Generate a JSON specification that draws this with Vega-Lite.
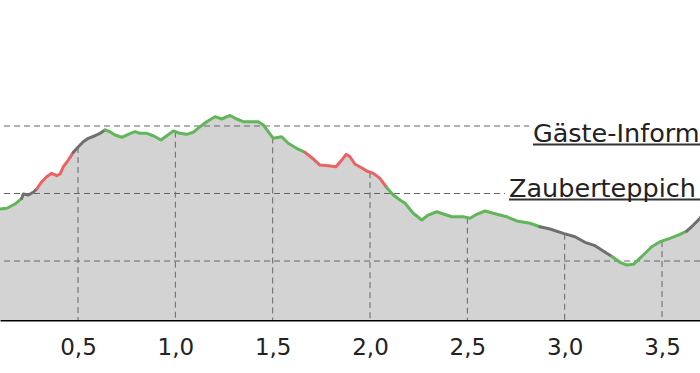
{
  "$schema": "https://vega.github.io/schema/vega-lite/v6.json",
  "width": 700,
  "height": 320,
  "autosize": "none",
  "padding": {"left": 0, "right": 0, "top": 0, "bottom": 53},
  "background": "white",
  "config": {"view": {"stroke": null}},
  "datasets": {
    "profile": [
      {"km":0.084,"ele":1467.56,"seg":1,"kind":"moderate"},
      {"km":0.099,"ele":1467.70,"seg":1,"kind":"moderate"},
      {"km":0.135,"ele":1467.81,"seg":1,"kind":"moderate"},
      {"km":0.176,"ele":1468.44,"seg":1,"kind":"moderate"},
      {"km":0.211,"ele":1469.29,"seg":1,"kind":"moderate"},
      {"km":0.211,"ele":1469.29,"seg":2,"kind":"unknown"},
      {"km":0.219,"ele":1469.93,"seg":2,"kind":"unknown"},
      {"km":0.245,"ele":1469.78,"seg":2,"kind":"unknown"},
      {"km":0.270,"ele":1470.18,"seg":2,"kind":"unknown"},
      {"km":0.288,"ele":1470.67,"seg":2,"kind":"unknown"},
      {"km":0.288,"ele":1470.67,"seg":3,"kind":"steep"},
      {"km":0.314,"ele":1471.75,"seg":3,"kind":"steep"},
      {"km":0.339,"ele":1472.49,"seg":3,"kind":"steep"},
      {"km":0.365,"ele":1472.99,"seg":3,"kind":"steep"},
      {"km":0.391,"ele":1472.64,"seg":3,"kind":"steep"},
      {"km":0.408,"ele":1472.89,"seg":3,"kind":"steep"},
      {"km":0.425,"ele":1473.97,"seg":3,"kind":"steep"},
      {"km":0.450,"ele":1474.96,"seg":3,"kind":"steep"},
      {"km":0.476,"ele":1476.10,"seg":3,"kind":"steep"},
      {"km":0.476,"ele":1476.10,"seg":4,"kind":"unknown"},
      {"km":0.502,"ele":1476.93,"seg":4,"kind":"unknown"},
      {"km":0.527,"ele":1477.67,"seg":4,"kind":"unknown"},
      {"km":0.553,"ele":1478.18,"seg":4,"kind":"unknown"},
      {"km":0.587,"ele":1478.56,"seg":4,"kind":"unknown"},
      {"km":0.613,"ele":1478.92,"seg":4,"kind":"unknown"},
      {"km":0.639,"ele":1479.41,"seg":4,"kind":"unknown"},
      {"km":0.639,"ele":1479.41,"seg":5,"kind":"moderate"},
      {"km":0.664,"ele":1479.16,"seg":5,"kind":"moderate"},
      {"km":0.690,"ele":1478.67,"seg":5,"kind":"moderate"},
      {"km":0.725,"ele":1478.33,"seg":5,"kind":"moderate"},
      {"km":0.758,"ele":1478.77,"seg":5,"kind":"moderate"},
      {"km":0.793,"ele":1479.16,"seg":5,"kind":"moderate"},
      {"km":0.819,"ele":1478.92,"seg":5,"kind":"moderate"},
      {"km":0.853,"ele":1478.92,"seg":5,"kind":"moderate"},
      {"km":0.887,"ele":1478.56,"seg":5,"kind":"moderate"},
      {"km":0.926,"ele":1477.93,"seg":5,"kind":"moderate"},
      {"km":0.956,"ele":1478.56,"seg":5,"kind":"moderate"},
      {"km":0.990,"ele":1479.26,"seg":5,"kind":"moderate"},
      {"km":1.024,"ele":1478.92,"seg":5,"kind":"moderate"},
      {"km":1.058,"ele":1478.77,"seg":5,"kind":"moderate"},
      {"km":1.092,"ele":1479.07,"seg":5,"kind":"moderate"},
      {"km":1.127,"ele":1479.90,"seg":5,"kind":"moderate"},
      {"km":1.161,"ele":1480.64,"seg":5,"kind":"moderate"},
      {"km":1.204,"ele":1481.38,"seg":5,"kind":"moderate"},
      {"km":1.238,"ele":1481.04,"seg":5,"kind":"moderate"},
      {"km":1.281,"ele":1481.56,"seg":5,"kind":"moderate"},
      {"km":1.315,"ele":1481.04,"seg":5,"kind":"moderate"},
      {"km":1.349,"ele":1480.64,"seg":5,"kind":"moderate"},
      {"km":1.426,"ele":1480.64,"seg":5,"kind":"moderate"},
      {"km":1.452,"ele":1480.15,"seg":5,"kind":"moderate"},
      {"km":1.503,"ele":1478.18,"seg":5,"kind":"moderate"},
      {"km":1.546,"ele":1478.41,"seg":5,"kind":"moderate"},
      {"km":1.580,"ele":1477.44,"seg":5,"kind":"moderate"},
      {"km":1.623,"ele":1476.70,"seg":5,"kind":"moderate"},
      {"km":1.666,"ele":1476.10,"seg":5,"kind":"moderate"},
      {"km":1.666,"ele":1476.10,"seg":6,"kind":"steep"},
      {"km":1.709,"ele":1475.11,"seg":6,"kind":"steep"},
      {"km":1.743,"ele":1474.22,"seg":6,"kind":"steep"},
      {"km":1.786,"ele":1474.12,"seg":6,"kind":"steep"},
      {"km":1.825,"ele":1473.97,"seg":6,"kind":"steep"},
      {"km":1.855,"ele":1474.96,"seg":6,"kind":"steep"},
      {"km":1.877,"ele":1475.81,"seg":6,"kind":"steep"},
      {"km":1.897,"ele":1475.45,"seg":6,"kind":"steep"},
      {"km":1.923,"ele":1474.33,"seg":6,"kind":"steep"},
      {"km":1.957,"ele":1473.82,"seg":6,"kind":"steep"},
      {"km":1.983,"ele":1473.33,"seg":6,"kind":"steep"},
      {"km":2.017,"ele":1472.99,"seg":6,"kind":"steep"},
      {"km":2.051,"ele":1472.25,"seg":6,"kind":"steep"},
      {"km":2.086,"ele":1470.86,"seg":6,"kind":"steep"},
      {"km":2.086,"ele":1470.86,"seg":7,"kind":"moderate"},
      {"km":2.120,"ele":1469.78,"seg":7,"kind":"moderate"},
      {"km":2.154,"ele":1469.04,"seg":7,"kind":"moderate"},
      {"km":2.180,"ele":1468.55,"seg":7,"kind":"moderate"},
      {"km":2.222,"ele":1467.07,"seg":7,"kind":"moderate"},
      {"km":2.266,"ele":1466.07,"seg":7,"kind":"moderate"},
      {"km":2.299,"ele":1466.81,"seg":7,"kind":"moderate"},
      {"km":2.343,"ele":1467.30,"seg":7,"kind":"moderate"},
      {"km":2.377,"ele":1466.96,"seg":7,"kind":"moderate"},
      {"km":2.420,"ele":1466.56,"seg":7,"kind":"moderate"},
      {"km":2.479,"ele":1466.56,"seg":7,"kind":"moderate"},
      {"km":2.514,"ele":1466.33,"seg":7,"kind":"moderate"},
      {"km":2.548,"ele":1466.92,"seg":7,"kind":"moderate"},
      {"km":2.591,"ele":1467.41,"seg":7,"kind":"moderate"},
      {"km":2.633,"ele":1467.07,"seg":7,"kind":"moderate"},
      {"km":2.702,"ele":1466.56,"seg":7,"kind":"moderate"},
      {"km":2.754,"ele":1465.93,"seg":7,"kind":"moderate"},
      {"km":2.822,"ele":1465.59,"seg":7,"kind":"moderate"},
      {"km":2.873,"ele":1465.08,"seg":7,"kind":"moderate"},
      {"km":2.873,"ele":1465.08,"seg":8,"kind":"unknown"},
      {"km":2.925,"ele":1464.74,"seg":8,"kind":"unknown"},
      {"km":2.993,"ele":1464.10,"seg":8,"kind":"unknown"},
      {"km":3.053,"ele":1463.60,"seg":8,"kind":"unknown"},
      {"km":3.104,"ele":1462.77,"seg":8,"kind":"unknown"},
      {"km":3.156,"ele":1462.27,"seg":8,"kind":"unknown"},
      {"km":3.216,"ele":1461.14,"seg":8,"kind":"unknown"},
      {"km":3.243,"ele":1460.67,"seg":8,"kind":"unknown"},
      {"km":3.243,"ele":1460.67,"seg":9,"kind":"moderate"},
      {"km":3.284,"ele":1459.81,"seg":9,"kind":"moderate"},
      {"km":3.319,"ele":1459.41,"seg":9,"kind":"moderate"},
      {"km":3.353,"ele":1459.51,"seg":9,"kind":"moderate"},
      {"km":3.404,"ele":1460.89,"seg":9,"kind":"moderate"},
      {"km":3.447,"ele":1462.12,"seg":9,"kind":"moderate"},
      {"km":3.490,"ele":1462.86,"seg":9,"kind":"moderate"},
      {"km":3.541,"ele":1463.36,"seg":9,"kind":"moderate"},
      {"km":3.592,"ele":1463.96,"seg":9,"kind":"moderate"},
      {"km":3.627,"ele":1464.44,"seg":9,"kind":"moderate"},
      {"km":3.627,"ele":1464.44,"seg":10,"kind":"unknown"},
      {"km":3.661,"ele":1465.33,"seg":10,"kind":"unknown"},
      {"km":3.695,"ele":1466.33,"seg":10,"kind":"unknown"},
      {"km":3.716,"ele":1467.26,"seg":10,"kind":"unknown"}
    ],
    "vgrid": [
      {"km":0.5,"ele":1476.88},
      {"km":1.0,"ele":1479.16},
      {"km":1.5,"ele":1478.30},
      {"km":2.0,"ele":1473.16},
      {"km":2.5,"ele":1466.42},
      {"km":3.0,"ele":1464.04},
      {"km":3.5,"ele":1462.96}
    ],
    "hgrid": [{"ele":1460},{"ele":1470},{"ele":1480}],
    "pois": [
      {"name":"Gäste-Information","km":2.837,"ele":1477.63,"box_km":2.817,"box_end":3.8,"box_top":1481.33,"box_bottom":1476.74,"line_ele":1477.26},
      {"name":"Zauberteppich","km":2.714,"ele":1469.48,"box_km":2.693,"box_end":3.8,"box_top":1473.19,"box_bottom":1468.59,"line_ele":1469.11}
    ]
  },
  "layer": [
    {
      "data": {"name": "profile"},
      "mark": {"type": "area", "color": "#d3d3d3", "clip": true},
      "encoding": {
        "x": {"field": "km", "type": "quantitative",
              "scale": {"domain": [0.0993, 3.6951], "nice": false, "zero": false},
              "axis": {"values": [0.5, 1, 1.5, 2, 2.5, 3, 3.5],
                       "labelExpr": "replace(format(datum.value, '.1f'), '.', ',')",
                       "grid": false, "ticks": false, "domain": true,
                       "domainColor": "#000", "domainWidth": 2,
                       "labelFont": "DejaVu Sans", "labelFontSize": 23,
                       "labelColor": "#222", "labelPadding": 16,
                       "labelFlush": false, "labelOverlap": false, "title": null}},
        "y": {"field": "ele", "type": "quantitative",
              "scale": {"domain": [1451.26, 1498.67], "nice": false, "zero": false},
              "axis": null},
        "y2": {"datum": 1451.26}
      }
    },
    {
      "data": {"name": "vgrid"},
      "mark": {"type": "rule", "color": "#666", "strokeWidth": 1, "strokeDash": [6, 4]},
      "encoding": {
        "x": {"field": "km", "type": "quantitative"},
        "y": {"field": "ele", "type": "quantitative"},
        "y2": {"datum": 1451.26}
      }
    },
    {
      "data": {"name": "hgrid"},
      "mark": {"type": "rule", "color": "#666", "strokeWidth": 1, "strokeDash": [6, 4]},
      "encoding": {
        "y": {"field": "ele", "type": "quantitative"}
      }
    },
    {
      "data": {"name": "profile"},
      "mark": {"type": "line", "strokeWidth": 3, "clip": true, "strokeJoin": "round", "strokeCap": "round"},
      "encoding": {
        "x": {"field": "km", "type": "quantitative"},
        "y": {"field": "ele", "type": "quantitative"},
        "detail": {"field": "seg", "type": "nominal"},
        "color": {"field": "kind", "type": "nominal",
                  "scale": {"domain": ["moderate", "steep", "unknown"], "range": ["#62b65a", "#ea6262", "#6f6f6f"]},
                  "legend": null}
      }
    },
    {
      "data": {"name": "pois"},
      "mark": {"type": "rect", "color": "white", "clip": true},
      "encoding": {
        "x": {"field": "box_km", "type": "quantitative"},
        "x2": {"field": "box_end"},
        "y": {"field": "box_top", "type": "quantitative"},
        "y2": {"field": "box_bottom"}
      }
    },
    {
      "data": {"name": "pois"},
      "mark": {"type": "rule", "color": "#333", "strokeWidth": 2, "clip": true},
      "encoding": {
        "x": {"field": "km", "type": "quantitative"},
        "x2": {"field": "box_end"},
        "y": {"field": "line_ele", "type": "quantitative"}
      }
    },
    {
      "data": {"name": "pois"},
      "mark": {"type": "text", "align": "left", "baseline": "alphabetic", "font": "DejaVu Sans", "fontSize": 25.5, "color": "#222"},
      "encoding": {
        "x": {"field": "km", "type": "quantitative"},
        "y": {"field": "ele", "type": "quantitative"},
        "text": {"field": "name"}
      }
    }
  ]
}
